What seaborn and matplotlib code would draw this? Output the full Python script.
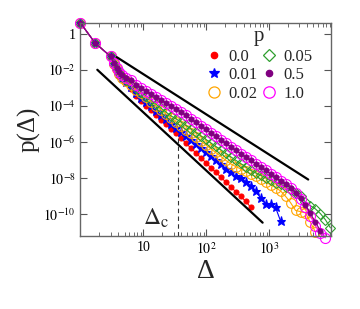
import numpy as np
import pandas as pd
import seaborn as sns
import matplotlib.pyplot as plt
import matplotlib.ticker as mticker
from matplotlib.lines import Line2D

# --- DATA (log10 p) ---
delta = [1, 1.7, 3, 3.4, 3.8, 4.1, 4.6, 5.3, 6.3, 7.6, 9.1, 10.9, 13.1, 15.7, 18.9,
         22.7, 27.2, 32.6, 39.2, 47, 56.4, 67.7, 81.2, 97.5, 117, 140, 168, 202, 243,
         291, 349, 419, 503, 604, 725, 870, 1044, 1252, 1503, 1804, 2164, 2597, 3117,
         3740, 4488, 5386, 6463, 7756, 9307]

logp_00 = [0.6, -0.5, -1.25, -1.70, -2.00, -2.25, -2.50, -2.75, -3.05, -3.47,
           -3.73, -3.98, -4.24, -4.50, -4.75, -5.01, -5.26, -5.51, -5.77,
           -6.05, -6.32, -6.59, -6.86, -7.13, -7.41, -7.66, -7.93, -8.20, -8.47,
           -8.74, -9.00, -9.27, -9.60]
logp_001 = [0.6, -0.5, -1.25, -1.68, -1.97, -2.22, -2.46, -2.68, -2.95, -3.30,
            -3.55, -3.78, -4.02, -4.26, -4.50, -4.74, -4.98, -5.20, -5.43,
            -5.66, -5.88, -6.11, -6.33, -6.56, -6.78, -7.00, -7.23, -7.46, -7.68,
            -7.90, -8.00, -8.18, -8.42, -8.70, -9.10, -9.40, -9.45, -9.62, -10.37]
logp_002 = [0.6, -0.5, -1.25, -1.66, -1.95, -2.20, -2.42, -2.60, -2.82, -3.10,
            -3.30, -3.52, -3.75, -3.98, -4.20, -4.43, -4.65, -4.87, -5.09,
            -5.30, -5.51, -5.73, -5.94, -6.15, -6.36, -6.57, -6.78, -7.00, -7.20,
            -7.35, -7.48, -7.62, -7.76, -7.90, -8.04, -8.20, -8.36, -8.52, -8.70,
            -9.00, -9.35, -9.78, -9.85, -9.92, -10.45, -10.98]
logp_005 = [0.6, -0.5, -1.25, -1.65, -1.92, -2.17, -2.37, -2.53, -2.72, -2.98,
            -3.20, -3.43, -3.66, -3.89, -4.11, -4.33, -4.54, -4.70, -4.87,
            -5.07, -5.26, -5.46, -5.65, -5.84, -6.04, -6.23, -6.42, -6.61, -6.81,
            -7.00, -7.18, -7.37, -7.56, -7.70, -7.83, -7.97, -8.11, -8.25, -8.32,
            -8.48, -8.65, -8.82, -9.00, -9.32, -9.52, -9.70, -9.96, -10.30, -10.75]
logp_05 = [0.6, -0.5, -1.25, -1.62, -1.88, -2.10, -2.29, -2.42, -2.58, -2.84,
           -3.00, -3.16, -3.33, -3.49, -3.66, -3.83, -3.99, -4.15, -4.32,
           -4.52, -4.71, -4.91, -5.10, -5.29, -5.49, -5.68, -5.87, -6.06, -6.26,
           -6.45, -6.63, -6.82, -7.01, -7.20, -7.38, -7.57, -7.76, -7.95, -8.14,
           -8.33, -8.55, -8.80, -9.10, -9.50, -9.95, -10.45, -10.90]
logp_10 = [0.6, -0.5, -1.25, -1.62, -1.88, -2.10, -2.29, -2.42, -2.58, -2.84,
           -3.00, -3.16, -3.33, -3.49, -3.66, -3.83, -3.99, -4.15, -4.32,
           -4.52, -4.71, -4.91, -5.10, -5.29, -5.49, -5.68, -5.87, -6.06, -6.26,
           -6.45, -6.63, -6.82, -7.01, -7.20, -7.38, -7.57, -7.76, -7.95, -8.14,
           -8.33, -8.52, -8.83, -9.16, -9.60, -10.09, -10.64, -11.02, -11.30]

# guide lines and the crossover marker
upper_x = [3.76, 4130]
upper_logp = [-1.29, -8.07]
lower_x = [1.85, 780]
lower_logp = [-1.99, -10.46]
delta_c = 35
delta_c_top = -5.7

# label, values, color, marker, size, filled
series = [
    ("0.0", logp_00, "#ff0000", "o", 3.6, True),
    ("0.01", logp_001, "#0000ff", "*", 6.5, True),
    ("0.02", logp_002, "#ffa500", "o", 7.0, False),
    ("0.05", logp_005, "#2e9e2e", "D", 4.8, False),
    ("1.0", logp_10, "#ff00ff", "o", 7.2, False),
    ("0.5", logp_05, "#800080", "o", 3.6, True),
]

# --- PLOT ---
sns.set_style("ticks")
plt.rcParams["font.family"] = ["Liberation Serif", "DejaVu Serif"]
plt.rcParams["mathtext.fontset"] = "stix"

fig = plt.figure(figsize=(3.6, 3.09), dpi=100)
ax = fig.add_axes([0.2236, 0.2362, 0.6958, 0.6893])

handles = {}
for label, lp, col, mk, ms, filled in series:
    df = pd.DataFrame({"delta": delta[:len(lp)], "p": 10.0 ** np.array(lp)})
    sns.lineplot(data=df, x="delta", y="p", ax=ax, color=col, lw=0.8,
                 marker=mk, markersize=ms,
                 markerfacecolor=col if filled else "none",
                 markeredgecolor=col, markeredgewidth=0.8,
                 errorbar=None, clip_on=False)
    handles[label] = Line2D([], [], ls="none", marker=mk, markersize=ms + 1,
                            markerfacecolor=col if filled else "none",
                            markeredgecolor=col, markeredgewidth=0.9)

for gx, gy in [(upper_x, upper_logp), (lower_x, lower_logp)]:
    sns.lineplot(x=gx, y=10.0 ** np.array(gy), ax=ax, color="black", lw=1.6,
                 errorbar=None)

ax.plot([delta_c, delta_c], [10 ** -11.2, 10 ** delta_c_top], color="#333333",
        lw=0.8, ls=(0, (4, 3)))
ax.text(26, 10 ** -10.2, r"$\Delta_{\rm c}$", fontsize=17, ha="right", va="center")

ax.set_xscale("log")
ax.set_yscale("log")
ax.set_xlim(1, 9500)
ax.set_ylim(10 ** -11.2, 10 ** 0.6)

def fmt(v, pos):
    n = int(round(np.log10(v)))
    if n == 0:
        return "1"
    if n == 1:
        return "10"
    return r"$10^{%d}$" % n

ax.set_xticks([10, 100, 1000])
ax.xaxis.set_minor_locator(mticker.LogLocator(base=10, subs=np.arange(2, 10), numticks=20))
ax.xaxis.set_major_formatter(mticker.FuncFormatter(fmt))
ax.xaxis.set_minor_formatter(mticker.NullFormatter())
ax.set_yticks([10.0 ** k for k in range(0, -11, -2)])
ax.yaxis.set_minor_locator(mticker.NullLocator())
ax.yaxis.set_major_formatter(mticker.FuncFormatter(fmt))

ax.tick_params(which="both", direction="in", top=True, right=True,
               colors="#555555", labelcolor="black", labelsize=10)
ax.tick_params(which="major", length=5, width=0.8)
ax.tick_params(which="minor", length=3, width=0.6)
for s in ax.spines.values():
    s.set_color("#666666")
    s.set_linewidth(1.0)

ax.set_xlabel("Δ", fontsize=20, labelpad=2)
ax.set_ylabel("p(Δ)", fontsize=18, labelpad=2)

order = ["0.0", "0.01", "0.02", "0.05", "0.5", "1.0"]
leg = ax.legend([handles[k] for k in order], order, ncol=2, title="p",
                loc="upper left", bbox_to_anchor=(0.465, 1.02), frameon=False,
                fontsize=12, title_fontsize=15, handlelength=1.0,
                handletextpad=0.4, columnspacing=0.15, labelspacing=0.15,
                borderaxespad=0.1)

plt.savefig("out.png", dpi=100)
